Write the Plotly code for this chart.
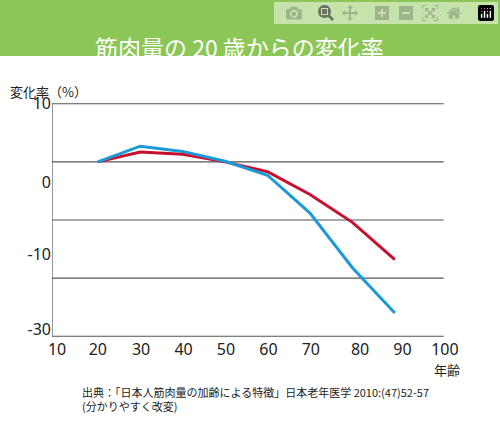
import plotly.graph_objects as go

ages = [20, 30, 40, 50, 60, 70, 80, 90]
red_vals = [0, 1.7, 1.3, 0, -1.7, -5.6, -10.4, -16.8]
blue_vals = [0, 2.7, 1.8, 0.1, -2.3, -8.8, -18.2, -26.0]
grid_y = [10, 0, -10, -20, -30]
ytick_pos = [10, -3.6, -16, -28.8]
ytick_text = ['10', '0', '-10', '-30']
xticks = [10, 20, 30, 40, 50, 60, 70, 80, 90, 100]
xtick_pos = [10.4, 20, 30.2, 40.2, 50.2, 60.2, 70.2, 81.8, 91.8, 101.8]

font = 'Noto Sans CJK JP'
fig = go.Figure()
fig.add_trace(go.Scatter(x=ages, y=red_vals, mode='lines',
                         line=dict(color='#c8102e', width=3)))
fig.add_trace(go.Scatter(x=ages, y=blue_vals, mode='lines',
                         line=dict(color='#1a9ad6', width=3)))

for g in grid_y:
    fig.add_shape(type='line', xref='x', yref='y', x0=9.2, x1=101.5, y0=g, y1=g,
                  line=dict(color='#555', width=1.2), layer='below')
fig.add_shape(type='line', xref='x', yref='y', x0=9.2, x1=9.2, y0=-30, y1=10,
              line=dict(color='#555', width=1.2), layer='below')

# banner
fig.add_shape(type='rect', xref='paper', yref='paper', x0=-0.2, x1=1.2,
              y0=(439 - 56 - 101) / 236, y1=(439 - 101) / 236,
              fillcolor='#8cc657', line_width=0, layer='below')

fig.add_annotation(xref='paper', yref='paper', x=0.47, y=(439 - 28 - 101) / 236,
                   text='筋肉量の 20 歳からの変化率', showarrow=False,
                   font=dict(family=font, size=23, color='white'))
fig.add_annotation(xref='paper', yref='paper', x=-0.11, y=(439 - 80 - 101) / 236,
                   xanchor='left', text='変化率（%）', showarrow=False,
                   font=dict(family=font, size=13, color='#222'))
fig.add_annotation(xref='paper', yref='paper', x=1.03, y=(439 - 381 - 101) / 236,
                   text='年齢', showarrow=False,
                   font=dict(family=font, size=13, color='#222'))
fig.add_annotation(xref='paper', yref='paper', x=0.07, y=(439 - 416 - 101) / 236,
                   xanchor='left', align='left', showarrow=False,
                   text='出典：「日本人筋肉量の加齢による特徴」日本老年医学 2010:(47)52-57<br>(分かりやすく改変)',
                   font=dict(family=font, size=11, color='#222'))

fig.update_layout(
    width=500, height=439, showlegend=False,
    margin=dict(l=52, r=50, t=102, b=101),
    plot_bgcolor='white', paper_bgcolor='white',
    xaxis=dict(range=[9.2, 101.5], tickvals=xtick_pos, ticktext=[str(v) for v in xticks],
               showgrid=False, zeroline=False, showline=False,
               tickfont=dict(family='Noto Sans', size=16, color='#222')),
    yaxis=dict(range=[-30.3, 10.3], tickvals=ytick_pos, ticktext=ytick_text,
               showgrid=False, zeroline=False, showline=False,
               tickfont=dict(family='Noto Sans', size=16, color='#222')),
)
fig.update_xaxes(range=[9.2, 103])
fig.write_html('out.html')

# drop the default body margin so the figure sits at the window corner
with open('out.html', encoding='utf-8') as f:
    html = f.read()
html = html.replace('<head>', '<head><style>body{margin:0;}</style>', 1)
with open('out.html', 'w', encoding='utf-8') as f:
    f.write(html)
